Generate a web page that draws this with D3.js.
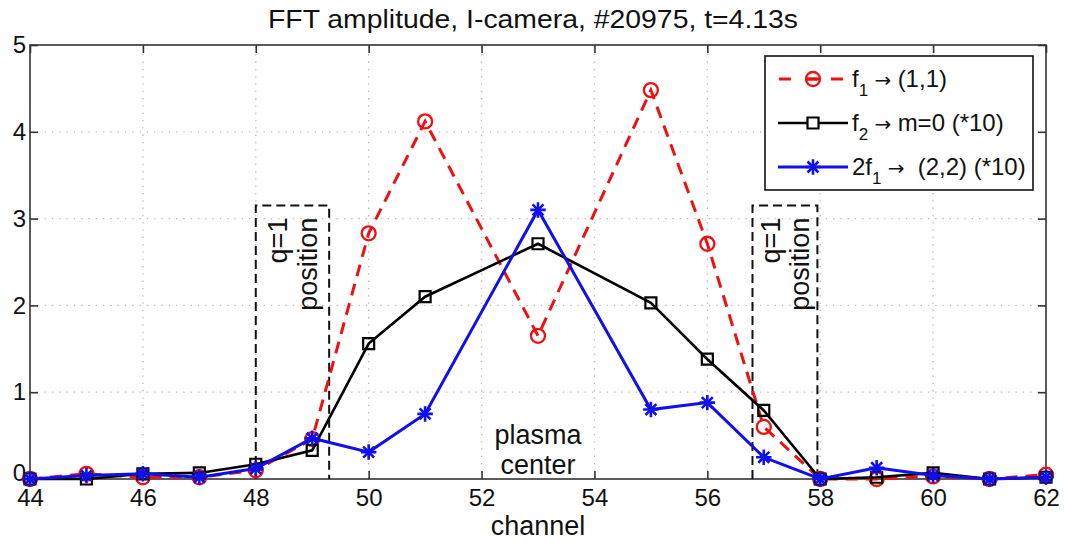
<!DOCTYPE html>
<html>
<head>
<meta charset="utf-8">
<script src="https://cdn.jsdelivr.net/npm/d3@7"></script>
<style>
  body { margin: 0; background: #fff; }
  svg { display: block; font-family: "Liberation Sans", Arial, sans-serif; }
</style>
</head>
<body>
<div id="chart"></div>
<script>
// channels 52 and 54 have no data
const channels = [44, 45, 46, 47, 48, 49, 50, 51, 53, 55, 56, 57, 58, 59, 60, 61, 62];
const f1Amp = [0, 0.06, 0.02, 0.02, 0.10, 0.46, 2.83, 4.12, 1.65, 4.48, 2.71, 0.60, 0, 0, 0.03, 0, 0.05];
const f2Amp = [0, 0, 0.06, 0.07, 0.17, 0.33, 1.56, 2.10, 2.71, 2.03, 1.38, 0.79, 0, 0.02, 0.07, 0, 0.02];
const h2Amp = [0, 0.04, 0.06, 0.02, 0.12, 0.47, 0.31, 0.75, 3.10, 0.80, 0.88, 0.25, 0, 0.13, 0.04, 0, 0.02];

const xTicks = [44, 46, 48, 50, 52, 54, 56, 58, 60, 62];
const yTicks = [0, 1, 2, 3, 4, 5];

// q=1 position boxes (channel range, top value)
const qBoxes = [
  { x0: 48.0, x1: 49.3, top: 3.15 },
  { x0: 56.8, x1: 57.95, top: 3.15 }
];

const W = 1068, H = 548;
const svg = d3.select("#chart").append("svg").attr("width", W).attr("height", H);

const x = d3.scaleLinear().domain([44, 62]).range([30, 1046]);
const y = d3.scaleLinear().domain([0, 5]).range([479, 45]);

// grid, dotted
const grid = svg.append("g").attr("stroke", "#b8b8b8").attr("stroke-width", 1.3)
  .attr("stroke-dasharray", "1.3,6");
grid.selectAll(".gx").data(xTicks.slice(1, -1)).enter().append("line")
  .attr("x1", d => x(d)).attr("x2", d => x(d)).attr("y1", y(0)).attr("y2", y(5));
grid.selectAll(".gy").data(yTicks.slice(1, -1)).enter().append("line")
  .attr("y1", d => y(d)).attr("y2", d => y(d)).attr("x1", x(44)).attr("x2", x(62));

// axes with inward ticks (matlab style)
function styleAxis(g) {
  g.select(".domain").remove();
  g.selectAll(".tick line").attr("stroke", "#333").attr("stroke-width", 1.6);
  g.selectAll(".tick text").attr("fill", "#111").attr("font-size", 24)
    .attr("font-family", "'Liberation Sans', Arial, sans-serif");
}
svg.append("g").attr("transform", `translate(0,${y(0)})`)
  .call(d3.axisBottom(x).tickValues(xTicks).tickSize(-8).tickPadding(10).tickFormat(d3.format("d")))
  .call(styleAxis);
svg.append("g").attr("transform", `translate(0,${y(5)})`)
  .call(d3.axisTop(x).tickValues(xTicks).tickSize(-8).tickFormat(""))
  .call(styleAxis);
svg.append("g").attr("transform", `translate(${x(44)},0)`)
  .call(d3.axisLeft(y).tickValues(yTicks).tickSize(-8).tickPadding(4).tickFormat(d3.format("d")))
  .call(styleAxis)
  .call(g => g.selectAll(".tick text").filter(d => d === 0).attr("dy", "0.05em"));
svg.append("g").attr("transform", `translate(${x(62)},0)`)
  .call(d3.axisRight(y).tickValues(yTicks).tickSize(-8).tickFormat(""))
  .call(styleAxis);

svg.append("rect")
  .attr("x", x(44)).attr("y", y(5))
  .attr("width", x(62) - x(44)).attr("height", y(0) - y(5))
  .attr("fill", "none").attr("stroke", "#333").attr("stroke-width", 1.6);

// q=1 boxes, text reads bottom-to-top, aligned at top
const qg = svg.append("g");
qBoxes.forEach(b => {
  qg.append("path")
    .attr("d", `M${x(b.x0)},${y(0)}V${y(b.top)}H${x(b.x1)}V${y(0)}`)
    .attr("fill", "none").attr("stroke", "#111").attr("stroke-width", 2)
    .attr("stroke-dasharray", "9,5");
  const cx = (x(b.x0) + x(b.x1)) / 2, top = y(b.top) + 12;
  const t = qg.append("text").attr("transform", `translate(${cx},${top}) rotate(-90)`)
    .attr("text-anchor", "end").attr("font-size", 27).attr("fill", "#111");
  t.append("tspan").attr("x", 0).attr("dy", "-0.2em").text("q=1");
  t.append("tspan").attr("x", 0).attr("dy", "1.1em").text("position");
});

// series
const pts = vals => channels.map((c, i) => [c, vals[i]]);
const line = d3.line().x(d => x(d[0])).y(d => y(d[1]));

svg.append("path").datum(pts(f1Amp)).attr("d", line)
  .attr("fill", "none").attr("stroke", "#ee1111").attr("stroke-width", 3)
  .attr("stroke-dasharray", "12,8");
svg.append("g").selectAll("circle").data(pts(f1Amp)).enter().append("circle")
  .attr("cx", d => x(d[0])).attr("cy", d => y(d[1])).attr("r", 7)
  .attr("fill", "none").attr("stroke", "#ee1111").attr("stroke-width", 2.3);

svg.append("path").datum(pts(f2Amp)).attr("d", line)
  .attr("fill", "none").attr("stroke", "#000").attr("stroke-width", 2.6);
const sq = d3.symbol(d3.symbolSquare, 121);
svg.append("g").selectAll("path").data(pts(f2Amp)).enter().append("path")
  .attr("d", sq).attr("transform", d => `translate(${x(d[0])},${y(d[1])})`)
  .attr("fill", "none").attr("stroke", "#000").attr("stroke-width", 2.2);

svg.append("path").datum(pts(h2Amp)).attr("d", line)
  .attr("fill", "none").attr("stroke", "#1010ee").attr("stroke-width", 3);
const plus = d3.symbol(d3.symbolPlus, 80), times = d3.symbol(d3.symbolTimes, 80);
const star = svg.append("g").selectAll("g").data(pts(h2Amp)).enter().append("g")
  .attr("transform", d => `translate(${x(d[0])},${y(d[1])})`)
  .attr("fill", "none").attr("stroke", "#1010ee").attr("stroke-width", 2.6);
star.append("path").attr("d", plus);
star.append("path").attr("d", times);

// plasma center label
const pc = svg.append("text").attr("text-anchor", "middle")
  .attr("font-size", 27).attr("fill", "#111");
pc.append("tspan").attr("x", x(53)).attr("y", 444).text("plasma");
pc.append("tspan").attr("x", x(53)).attr("y", 474).text("center");

// title and x label
svg.append("text").attr("x", 533).attr("y", 28).attr("text-anchor", "middle")
  .attr("font-size", 26).attr("textLength", 530).attr("lengthAdjust", "spacingAndGlyphs")
  .attr("fill", "#111").text("FFT amplitude, I-camera, #20975, t=4.13s");
svg.append("text").attr("x", x(53)).attr("y", 535).attr("text-anchor", "middle")
  .attr("font-size", 27).attr("fill", "#111").text("channel");

// legend
const lg = svg.append("g");
lg.append("rect").attr("x", 765).attr("y", 56).attr("width", 268).attr("height", 134)
  .attr("fill", "#fff").attr("stroke", "#111").attr("stroke-width", 1.6);
const legendItems = [
  { color: "#ee1111", dash: "12,14", mark: "circle", label: ["f", "1", "(1,1)"] },
  { color: "#000", dash: null, mark: "square", label: ["f", "2", "m=0 (*10)"] },
  { color: "#1010ee", dash: null, mark: "star", label: ["2f", "1", "\u00a0(2,2) (*10)"] }
];
legendItems.forEach((it, i) => {
  const ly = 79 + i * 44, lx0 = 778, lx1 = 848, mx = (lx0 + lx1) / 2;
  lg.append("line").attr("x1", lx0).attr("x2", lx1).attr("y1", ly).attr("y2", ly)
    .attr("stroke", it.color).attr("stroke-width", it.mark === "square" ? 2.6 : 3)
    .attr("stroke-dasharray", it.dash).attr("stroke-dashoffset", it.dash ? -1 : null);
  if (it.mark === "circle") {
    lg.append("circle").attr("cx", mx).attr("cy", ly).attr("r", 7)
      .attr("fill", "none").attr("stroke", it.color).attr("stroke-width", 2.3);
    lg.append("line").attr("x1", mx - 6).attr("x2", mx + 6).attr("y1", ly).attr("y2", ly)
      .attr("stroke", it.color).attr("stroke-width", 3);
  } else if (it.mark === "square") {
    lg.append("path").attr("d", sq).attr("transform", `translate(${mx},${ly})`)
      .attr("fill", "#fff").attr("stroke", it.color).attr("stroke-width", 2.2);
  } else {
    const s = lg.append("g").attr("transform", `translate(${mx},${ly})`)
      .attr("fill", "none").attr("stroke", it.color).attr("stroke-width", 2.6);
    s.append("path").attr("d", plus);
    s.append("path").attr("d", times);
  }
  const t = lg.append("text").attr("x", 852).attr("y", ly + 8).attr("font-size", 24).attr("fill", "#111");
  t.append("tspan").text(it.label[0]);
  t.append("tspan").attr("font-size", 17).attr("dy", 9).text(it.label[1]);
  t.append("tspan").attr("dy", -9).attr("font-family", "'DejaVu Sans', sans-serif")
    .attr("font-size", 20).text("\u00a0\u2192\u00a0");
  t.append("tspan").text(it.label[2]);
});
</script>
</body>
</html>
